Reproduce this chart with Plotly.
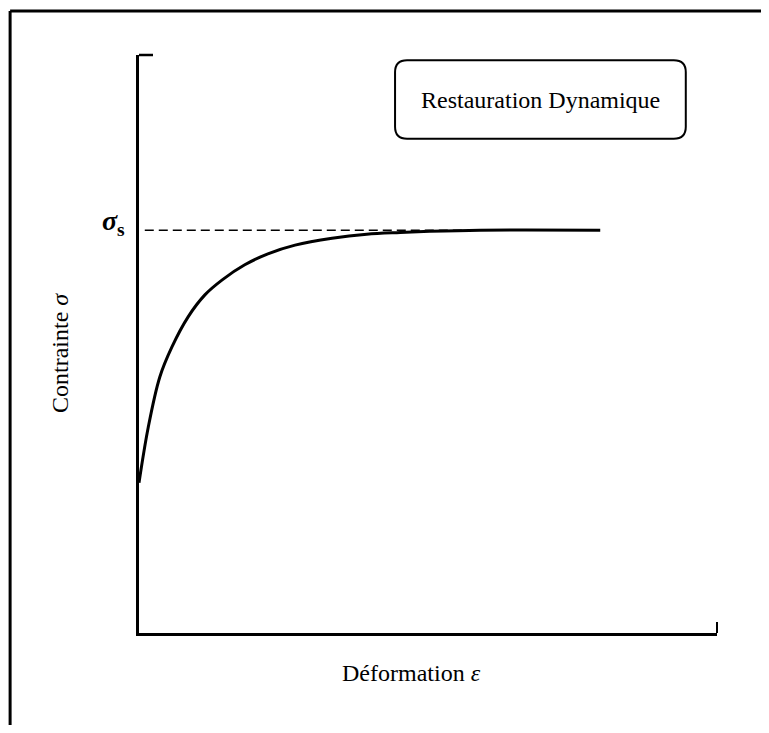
import plotly.graph_objects as go

# stress-strain curve (arbitrary units, axes 0-10)
deformation = [0.0, 0.16, 0.36, 0.57, 0.85, 1.14, 1.44, 1.83, 2.23, 2.70, 3.34, 3.94, 4.52, 5.03, 5.90, 7.98]
contrainte = [2.60, 3.56, 4.43, 4.95, 5.47, 5.85, 6.11, 6.37, 6.56, 6.71, 6.83, 6.90, 6.93, 6.95, 6.97, 6.97]
sigma_s = 6.97
dash_x = [0.1, 5.9]

FONT = "Liberation Serif, Times New Roman, serif"

fig = go.Figure()

# dashed steady-state line
fig.add_trace(go.Scatter(
    x=dash_x, y=[sigma_s, sigma_s], mode="lines",
    line=dict(color="black", width=1.5, dash="9px,5px"),
    hoverinfo="skip"))

# the curve
fig.add_trace(go.Scatter(
    x=deformation, y=contrainte, mode="lines",
    line=dict(color="black", width=3, shape="spline", smoothing=1.0),
    hoverinfo="skip"))

# plot area spans 578 px both ways
px = 1 / 578

shapes = [
    # outer frame
    dict(type="line", xref="paper", yref="paper", x0=-0.223, x1=1.078, y0=1.076, y1=1.076,
         line=dict(color="black", width=3)),
    dict(type="line", xref="paper", yref="paper", x0=-0.223, x1=-0.223, y0=1.076, y1=-0.159,
         line=dict(color="black", width=3)),
    dict(type="line", xref="paper", yref="paper", x0=1.078, x1=1.078, y0=1.076, y1=-12 * px,
         line=dict(color="black", width=2)),
    # small stubs at the axis ends
    dict(type="line", xref="paper", yref="paper", x0=0, x1=14 * px, y0=1, y1=1,
         line=dict(color="black", width=2.5)),
    dict(type="line", xref="paper", yref="paper", x0=1, x1=1, y0=0, y1=11 * px,
         line=dict(color="black", width=2)),
]

# rounded legend box
x0, x1, y0, y1 = 0.443, 0.946, 0.855, 0.991
r = 12 * px
path = (f"M {x0 + r},{y1} L {x1 - r},{y1} Q {x1},{y1} {x1},{y1 - r} "
        f"L {x1},{y0 + r} Q {x1},{y0} {x1 - r},{y0} L {x0 + r},{y0} "
        f"Q {x0},{y0} {x0},{y0 + r} L {x0},{y1 - r} Q {x0},{y1} {x0 + r},{y1} Z")
shapes.append(dict(type="path", xref="paper", yref="paper", path=path,
                   line=dict(color="black", width=2), layer="below"))

annotations = [
    dict(text="Restauration Dynamique", xref="paper", yref="paper",
         x=(x0 + x1) / 2, y=(y0 + y1) / 2, showarrow=False,
         xanchor="center", yanchor="middle",
         font=dict(family=FONT, size=24, color="black")),
    dict(text="<b><i>σ</i></b><sub><b>s</b></sub>", xref="paper", yref="y",
         x=-12 * px, y=sigma_s, showarrow=False, xanchor="right", yanchor="middle",
         yshift=8, font=dict(family=FONT, size=28, color="black")),
    dict(text="Contrainte <i>σ</i>", xref="paper", yref="paper",
         x=-79 * px, y=(633 - 353) * px, textangle=-90, showarrow=False,
         xanchor="center", yanchor="middle",
         font=dict(family=FONT, size=24, color="black")),
    dict(text="Déformation <i>ε</i>", xref="paper", yref="paper",
         x=(411 - 139) * px, y=-40 * px, showarrow=False,
         xanchor="center", yanchor="middle",
         font=dict(family=FONT, size=24, color="black")),
]

# page adds an 8px body margin, so the figure is 8px smaller each way
fig.update_layout(
    width=761, height=725,
    margin=dict(l=131, r=52, t=47, b=100),
    paper_bgcolor="white", plot_bgcolor="white",
    showlegend=False,
    shapes=shapes, annotations=annotations,
    xaxis=dict(range=[0, 10], showline=True, linecolor="black", linewidth=2.5,
               showgrid=False, zeroline=False, showticklabels=False, ticks=""),
    yaxis=dict(range=[0, 10], showline=True, linecolor="black", linewidth=2.5,
               showgrid=False, zeroline=False, showticklabels=False, ticks=""),
)

fig.write_html("out.html")
